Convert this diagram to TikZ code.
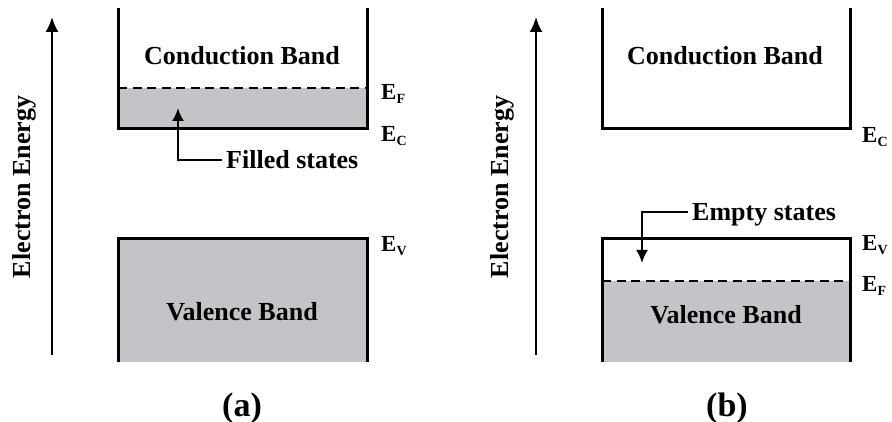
\documentclass[tikz,border=0pt]{standalone}
\usepackage{fontspec}
\setmainfont{Liberation Serif}
\usetikzlibrary{arrows.meta}
\definecolor{bandgrey}{RGB}{196,196,200}
\newcommand{\esub}[1]{E\raisebox{-4pt}{\fontsize{14}{14}\selectfont #1}}
\begin{document}
\begin{tikzpicture}[x=1pt,y=-1pt,
  wall/.style={line width=3pt, line join=miter},
  fermi/.style={line width=2.2pt, dash pattern=on 9pt off 5.5pt},
  axisarrow/.style={line width=2.2pt, -{Latex[length=15pt,width=13pt]}},
  callout/.style={line width=2.2pt, -{Latex[length=13pt,width=12pt]}},
  bandtext/.style={font=\fontsize{26}{30}\selectfont\bfseries, inner sep=0pt, text height=17pt, text depth=0pt},
  calltext/.style={bandtext, inner sep=4pt, anchor=west},
  level/.style={font=\fontsize{23}{26}\selectfont\bfseries, inner sep=0pt, anchor=base west},
  caption/.style={font=\fontsize{34}{40}\selectfont\bfseries, inner sep=0pt, anchor=base},
]
\useasboundingbox (0,0) rectangle (892,422);

% ---------- panel (a) ----------
\fill[bandgrey] (118,88) rectangle (367,129);
\draw[fermi] (118,88) -- (367,88);
\draw[wall] (118,8) -- (118,129) -- (367,129) -- (367,8);
\fill[bandgrey] (118,239) rectangle (367,362);
\draw[wall] (118,362) -- (118,239) -- (367,239) -- (367,362);

\coordinate (aa0) at (52,355);
\coordinate (aa1) at (52,17);
\draw[axisarrow] (aa0) -- (aa1);
\node[bandtext, rotate=90] (eea) at (22,187) {Electron Energy};

\node[bandtext] (cba) at (242,56) {Conduction Band};
\node[bandtext] (vba) at (242,312) {Valence Band};

\node[calltext] (fs) at (222,160) {Filled states};
\coordinate (fstip) at (178,108);
\draw[callout] (fs.west) -| (fstip);

\node[level] (efa) at (381,100) {\esub{F}};
\node[level] (eca) at (381,142) {\esub{C}};
\node[level] (eva) at (381,252) {\esub{V}};

\node[caption] (capa) at (242,416) {(a)};

% ---------- panel (b) ----------
\draw[wall] (602,8) -- (602,129) -- (850,129) -- (850,8);
\fill[bandgrey] (602,281) rectangle (850,362);
\draw[fermi] (602,281) -- (850,281);
\draw[wall] (602,362) -- (602,239) -- (850,239) -- (850,362);

\coordinate (ab0) at (536,355);
\coordinate (ab1) at (536,17);
\draw[axisarrow] (ab0) -- (ab1);
\node[bandtext, rotate=90] (eeb) at (500,187) {Electron Energy};

\node[bandtext] (cbb) at (725,56) {Conduction Band};
\node[bandtext] (vbb) at (726,315) {Valence Band};

\node[calltext] (es) at (688,212) {Empty states};
\coordinate (estip) at (642,263);
\draw[callout] (es.west) -| (estip);

\node[level] (ecb) at (862,143) {\esub{C}};
\node[level] (evb) at (862,251) {\esub{V}};
\node[level] (efb) at (862,291) {\esub{F}};

\node[caption] (capb) at (727,416) {(b)};
\end{tikzpicture}
\end{document}
